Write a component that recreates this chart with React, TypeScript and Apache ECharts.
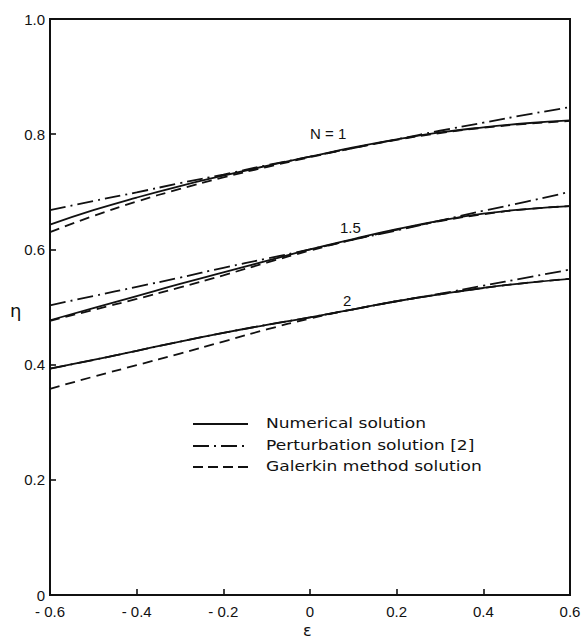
import React, { useEffect, useRef } from "react";
import * as echarts from "echarts";

const eps = [-0.6, -0.5, -0.4, -0.3, -0.2, -0.1, 0, 0.1, 0.2, 0.3, 0.4, 0.5, 0.6];

const n1Numerical = [0.643, 0.668, 0.690, 0.710, 0.728, 0.745, 0.761, 0.777, 0.791, 0.803, 0.812, 0.819, 0.824];
const n1Perturbation = [0.668, 0.684, 0.699, 0.715, 0.730, 0.746, 0.761, 0.776, 0.791, 0.806, 0.820, 0.834, 0.847];
const n1Galerkin = [0.630, 0.658, 0.683, 0.705, 0.725, 0.743, 0.760, 0.776, 0.790, 0.802, 0.811, 0.818, 0.823];

const n15Numerical = [0.477, 0.498, 0.519, 0.540, 0.560, 0.580, 0.600, 0.618, 0.635, 0.650, 0.662, 0.670, 0.675];
const n15Perturbation = [0.503, 0.519, 0.535, 0.551, 0.568, 0.584, 0.600, 0.617, 0.633, 0.650, 0.667, 0.683, 0.700];
const n15Galerkin = [0.476, 0.495, 0.514, 0.534, 0.555, 0.577, 0.598, 0.617, 0.634, 0.649, 0.661, 0.670, 0.675];

const n2Numerical = [0.393, 0.408, 0.424, 0.440, 0.455, 0.469, 0.482, 0.496, 0.510, 0.522, 0.533, 0.542, 0.549];
const n2Perturbation = [0.393, 0.408, 0.424, 0.440, 0.455, 0.469, 0.482, 0.496, 0.510, 0.523, 0.537, 0.551, 0.565];
const n2Galerkin = [0.358, 0.379, 0.399, 0.419, 0.440, 0.461, 0.480, 0.496, 0.510, 0.522, 0.533, 0.542, 0.549];

const legendLabels = ["Numerical solution", "Perturbation solution [2]", "Galerkin method solution"];
const curveLabels = ["N = 1", "1.5", "2"];

const FONT = "'Liberation Sans', Arial, sans-serif";
const LW = 1.8;
const solidStyle = { color: "#111", width: LW, type: "solid" as any };
const dashDotStyle = { color: "#111", width: LW, type: [16, 5, 2, 5] as any };
const dashedStyle = { color: "#111", width: LW, type: [10, 6] as any };

function mk(name: string, vals: number[], style: any) {
  return {
    type: "line",
    name,
    data: eps.map((e, i) => [e, vals[i]]),
    smooth: true,
    showSymbol: false,
    symbol: "none",
    lineStyle: style,
    z: 3,
  };
}

export default function App() {
  const ref = useRef<HTMLDivElement>(null);
  useEffect(() => {
    if (!ref.current) return;
    const chart = echarts.init(ref.current, null, { renderer: "svg" });
    const legendY = [424, 446, 467];
    const graphic: any[] = [];
    legendLabels.forEach((t, i) => {
      graphic.push({
        type: "line",
        shape: { x1: 193, y1: legendY[i], x2: 248, y2: legendY[i] },
        style: {
          stroke: "#111",
          lineWidth: LW,
          lineDash: i === 0 ? null : i === 1 ? [16, 5, 2, 5] : [10, 5],
        },
      });
      graphic.push({
        type: "text",
        x: 266,
        y: legendY[i],
        scaleX: 1.22,
        style: {
          text: t,
          font: `14px 'DejaVu Sans', sans-serif`,
          fill: "#111",
          verticalAlign: "middle",
        },
      });
    });
    const labelPos = [
      [310, 133],
      [340, 227],
      [343, 300],
    ];
    curveLabels.forEach((t, i) => {
      graphic.push({
        type: "text",
        x: labelPos[i][0],
        y: labelPos[i][1],
        style: { text: t, font: `15px ${FONT}`, fill: "#111", verticalAlign: "middle" },
      });
    });
    graphic.push({
      type: "text",
      x: 10,
      y: 310,
      style: { text: "η", font: `18px 'DejaVu Sans', sans-serif`, fill: "#111", verticalAlign: "middle" },
    });
    graphic.push({
      type: "text",
      x: 303,
      y: 630,
      style: { text: "ε", font: `16px 'DejaVu Sans', sans-serif`, fill: "#111", verticalAlign: "middle" },
    });

    chart.setOption({
      animation: false,
      backgroundColor: "#fff",
      grid: {
        left: 50,
        right: 18,
        top: 19,
        bottom: 49,
        show: true,
        borderColor: "#111",
        borderWidth: 2,
        backgroundColor: "transparent",
      },
      xAxis: {
        type: "value",
        min: -0.6,
        max: 0.6,
        interval: 0.2,
        axisLine: { show: true, onZero: false, lineStyle: { color: "#111", width: 2 } },
        axisTick: { show: true, inside: true, length: 6, lineStyle: { color: "#111", width: 1.6 } },
        splitLine: { show: false },
        axisLabel: {
          color: "#111",
          fontFamily: FONT,
          fontSize: 15,
          margin: 9,
          formatter: (v: number) => {
            if (Math.abs(v) < 1e-9) return "0";
            if (v < 0) return "- " + Math.abs(v).toFixed(1);
            return v.toFixed(1);
          },
        },
      },
      yAxis: {
        type: "value",
        min: 0,
        max: 1,
        interval: 0.2,
        axisLine: { show: true, onZero: false, lineStyle: { color: "#111", width: 2 } },
        axisTick: { show: true, inside: true, length: 6, lineStyle: { color: "#111", width: 1.6 } },
        splitLine: { show: false },
        axisLabel: {
          color: "#111",
          fontFamily: FONT,
          fontSize: 15,
          margin: 5,
          formatter: (v: number) => (Math.abs(v) < 1e-9 ? "0" : v.toFixed(1)),
        },
      },
      graphic,
      series: [
        mk("N1 numerical", n1Numerical, solidStyle),
        mk("N1 perturbation", n1Perturbation, dashDotStyle),
        mk("N1 galerkin", n1Galerkin, dashedStyle),
        mk("N1.5 numerical", n15Numerical, solidStyle),
        mk("N1.5 perturbation", n15Perturbation, dashDotStyle),
        mk("N1.5 galerkin", n15Galerkin, dashedStyle),
        mk("N2 numerical", n2Numerical, solidStyle),
        mk("N2 perturbation", n2Perturbation, dashDotStyle),
        mk("N2 galerkin", n2Galerkin, dashedStyle),
      ],
    });
    return () => chart.dispose();
  }, []);
  return <div ref={ref} style={{ position: "fixed", left: 0, top: 0, width: 588, height: 644 }} />;
}
